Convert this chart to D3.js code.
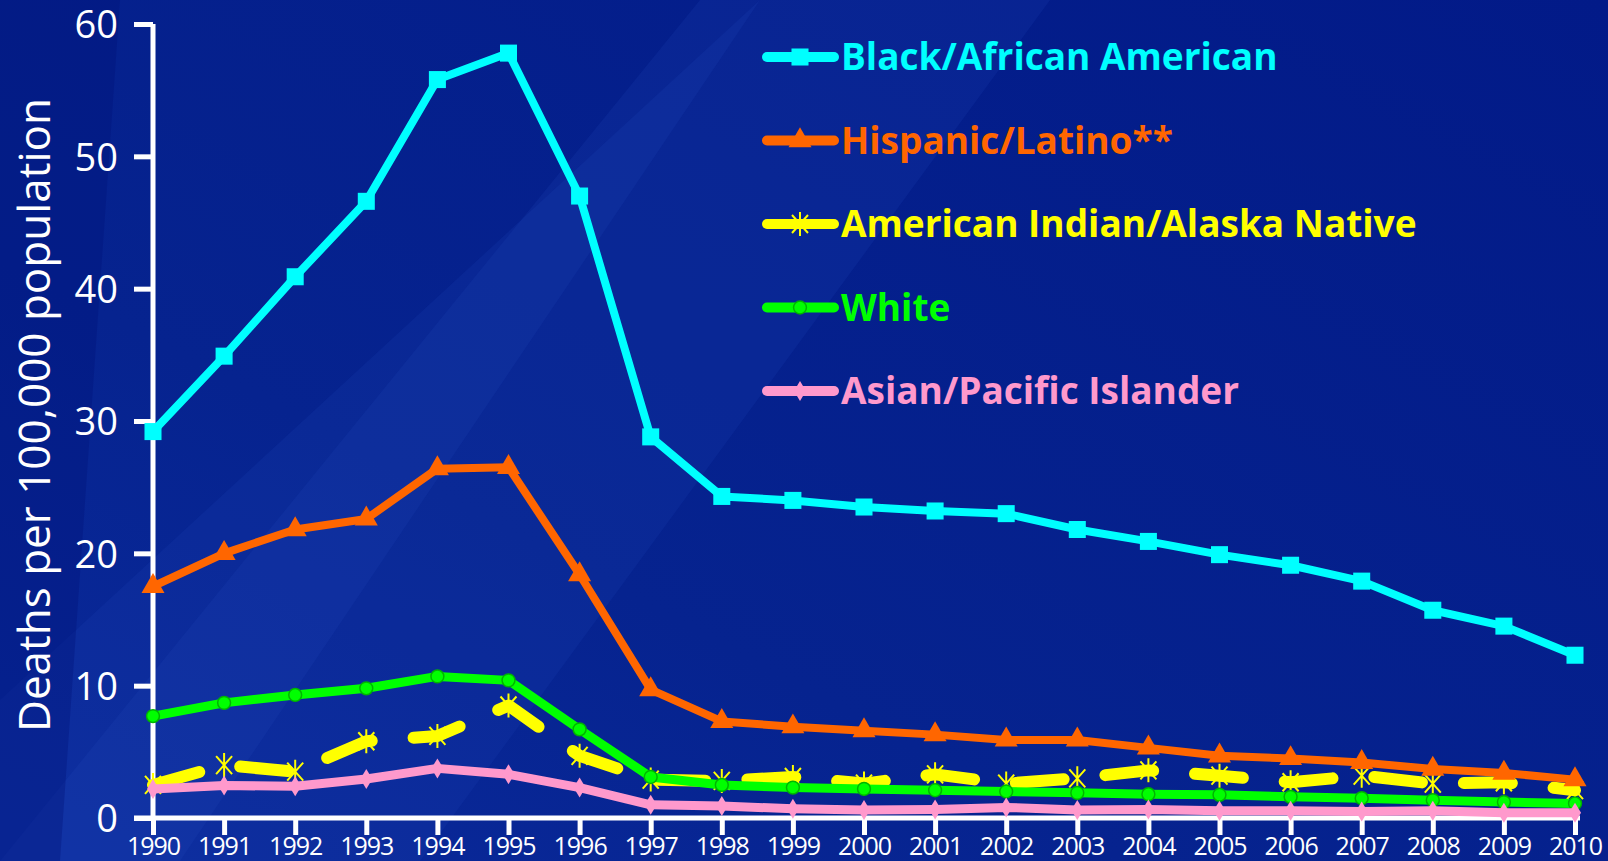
<!DOCTYPE html>
<html>
<head>
<meta charset="utf-8">
<script src="https://cdn.jsdelivr.net/npm/d3@7"></script>
<style>
  html, body { margin: 0; padding: 0; background: #03198a; overflow: hidden; }
  text { font-family: "Open Sans", "Noto Sans", sans-serif; }
</style>
</head>
<body>
<div id="chart"></div>
<script>
// Data
var years = d3.range(1990, 2011);
var seriesNames = ["Black/African American", "Hispanic/Latino**", "American Indian/Alaska Native", "White", "Asian/Pacific Islander"];
var black = [29.2, 34.9, 40.9, 46.6, 55.8, 57.8, 47.0, 28.8, 24.3, 24.0, 23.5, 23.2, 23.0, 21.8, 20.9, 19.9, 19.1, 17.9, 15.7, 14.5, 12.3];
var hispanic = [17.5, 20.0, 21.8, 22.6, 26.4, 26.5, 18.4, 9.7, 7.3, 6.9, 6.6, 6.3, 5.9, 5.9, 5.3, 4.7, 4.5, 4.2, 3.7, 3.4, 2.9];
var amIndian = [2.5, 4.0, 3.5, 5.8, 6.2, 8.5, 4.7, 2.9, 2.8, 3.1, 2.6, 3.3, 2.6, 3.0, 3.6, 3.2, 2.7, 3.2, 2.6, 2.7, 2.1];
var white = [7.7, 8.7, 9.3, 9.8, 10.7, 10.4, 6.7, 3.1, 2.5, 2.3, 2.2, 2.1, 2.0, 1.9, 1.8, 1.75, 1.6, 1.5, 1.35, 1.2, 1.1];
var asian = [2.2, 2.45, 2.4, 2.95, 3.75, 3.3, 2.3, 1.0, 0.9, 0.7, 0.6, 0.65, 0.8, 0.6, 0.65, 0.55, 0.55, 0.5, 0.55, 0.4, 0.4];
var yTicks = [0, 10, 20, 30, 40, 50, 60];

var W = 1608, H = 861;
var margin = { top: 24, right: 33, bottom: 43, left: 153 };

var svg = d3.select("#chart").append("svg")
  .attr("width", W).attr("height", H);

// background
var defs = svg.append("defs");
var bg = defs.append("linearGradient").attr("id", "bg")
  .attr("x1", "0").attr("y1", "1").attr("x2", "1").attr("y2", "0");
bg.append("stop").attr("offset", "0%").attr("stop-color", "#0a2a9c");
bg.append("stop").attr("offset", "35%").attr("stop-color", "#06238f");
bg.append("stop").attr("offset", "100%").attr("stop-color", "#021a88");
svg.append("rect").attr("width", W).attr("height", H).attr("fill", "url(#bg)");

// soft diagonal streaks
svg.append("path").attr("d", "M0,700 L0,861 L420,861 L1050,0 L760,0 Z")
  .attr("fill", "#1a3fb0").attr("opacity", 0.22);
svg.append("path").attr("d", "M0,861 L180,861 L760,0 L700,0 Z")
  .attr("fill", "#2a50c0").attr("opacity", 0.15);
svg.append("path").attr("d", "M0,0 L120,0 L60,861 L0,861 Z")
  .attr("fill", "#011278").attr("opacity", 0.35);

var x = d3.scaleLinear().domain([1990, 2010]).range([margin.left, W - margin.right]);
var y = d3.scaleLinear().domain([0, 60]).range([H - margin.bottom, margin.top]);

// axes
var yAxis = svg.append("g")
  .attr("transform", "translate(" + margin.left + ",0)")
  .call(d3.axisLeft(y).tickValues(yTicks).tickSize(19).tickSizeOuter(0).tickPadding(16));
var xAxis = svg.append("g")
  .attr("transform", "translate(0," + (H - margin.bottom) + ")")
  .call(d3.axisBottom(x).tickValues(years).tickFormat(d3.format("d")).tickSize(17).tickSizeOuter(0).tickPadding(2));

[yAxis, xAxis].forEach(function (a) {
  a.select(".domain").attr("stroke", "#fff").attr("stroke-width", 5);
  a.selectAll(".tick line").attr("stroke", "#fff").attr("stroke-width", 5);
  a.selectAll("text").attr("fill", "#fff");
});
// extend x axis line left to the y tick ends
xAxis.select(".domain").attr("d", "M" + (margin.left - 19) + ",0H" + (W - margin.right + 5));
yAxis.select(".domain").attr("d", "M0," + margin.top + "V" + (H - margin.bottom + 2));
yAxis.selectAll("text").attr("font-size", 38).attr("dy", "0.36em");
xAxis.selectAll("text").attr("font-size", 25).attr("letter-spacing", -1);

svg.append("text")
  .attr("transform", "translate(50,415) rotate(-90)")
  .attr("text-anchor", "middle")
  .attr("fill", "#fff")
  .attr("font-size", 44)
  .text("Deaths per 100,000 population");

var line = d3.line()
  .x(function (d, i) { return x(years[i]); })
  .y(function (d) { return y(d); });

var series = [
  { name: seriesNames[2], values: amIndian, color: "#ffff00", width: 12, dash: "48,42", marker: "asterisk" },
  { name: seriesNames[3], values: white, color: "#00ff00", width: 9, marker: "circle" },
  { name: seriesNames[4], values: asian, color: "#ff99cc", width: 9, marker: "diamond" },
  { name: seriesNames[1], values: hispanic, color: "#ff6600", width: 8, marker: "triangle" },
  { name: seriesNames[0], values: black, color: "#00ffff", width: 8, marker: "square" }
];

function drawMarker(g, s) {
  if (s.marker === "asterisk") {
    g.attr("d", "M0,-12V12M-8,-9L8,9M-8,9L8,-9")
      .attr("fill", "none").attr("stroke", s.color).attr("stroke-width", 2);
  } else if (s.marker === "circle") {
    g.attr("d", d3.symbol().type(d3.symbolCircle).size(130)())
      .attr("fill", s.color).attr("stroke", "#00b400").attr("stroke-width", 1.5);
  } else if (s.marker === "diamond") {
    g.attr("d", "M0,-10L6,0L0,10L-6,0Z").attr("fill", s.color);
  } else if (s.marker === "triangle") {
    g.attr("d", d3.symbol().type(d3.symbolTriangle).size(230)()).attr("fill", s.color);
  } else {
    g.attr("d", d3.symbol().type(d3.symbolSquare).size(290)()).attr("fill", s.color);
  }
}

series.forEach(function (s) {
  svg.append("path")
    .attr("d", line(s.values))
    .attr("fill", "none")
    .attr("stroke", s.color)
    .attr("stroke-width", s.width)
    .attr("stroke-linejoin", "round")
    .attr("stroke-linecap", s.dash ? "round" : "butt")
    .attr("stroke-dasharray", s.dash || null);

  svg.selectAll(null).data(s.values).enter().append("path")
    .attr("transform", function (d, i) { return "translate(" + x(years[i]) + "," + y(d) + ")"; })
    .each(function () { drawMarker(d3.select(this), s); });
});

// legend
var legendY = d3.scalePoint().domain(seriesNames).range([57, 391]);
var legendOrder = [series[4], series[3], series[0], series[1], series[2]];
legendOrder.forEach(function (s) {
  var g = svg.append("g").attr("transform", "translate(0," + legendY(s.name) + ")");
  g.append("line").attr("x1", 767).attr("x2", 834)
    .attr("stroke", s.color).attr("stroke-width", 10).attr("stroke-linecap", "round");
  g.append("path").attr("transform", "translate(800,0)")
    .each(function () { drawMarker(d3.select(this), s); });
  g.append("text")
    .attr("x", 841).attr("y", 13)
    .attr("fill", s.color)
    .attr("font-size", 37)
    .attr("font-weight", 700)
    .text(s.name);
});
</script>
</body>
</html>
